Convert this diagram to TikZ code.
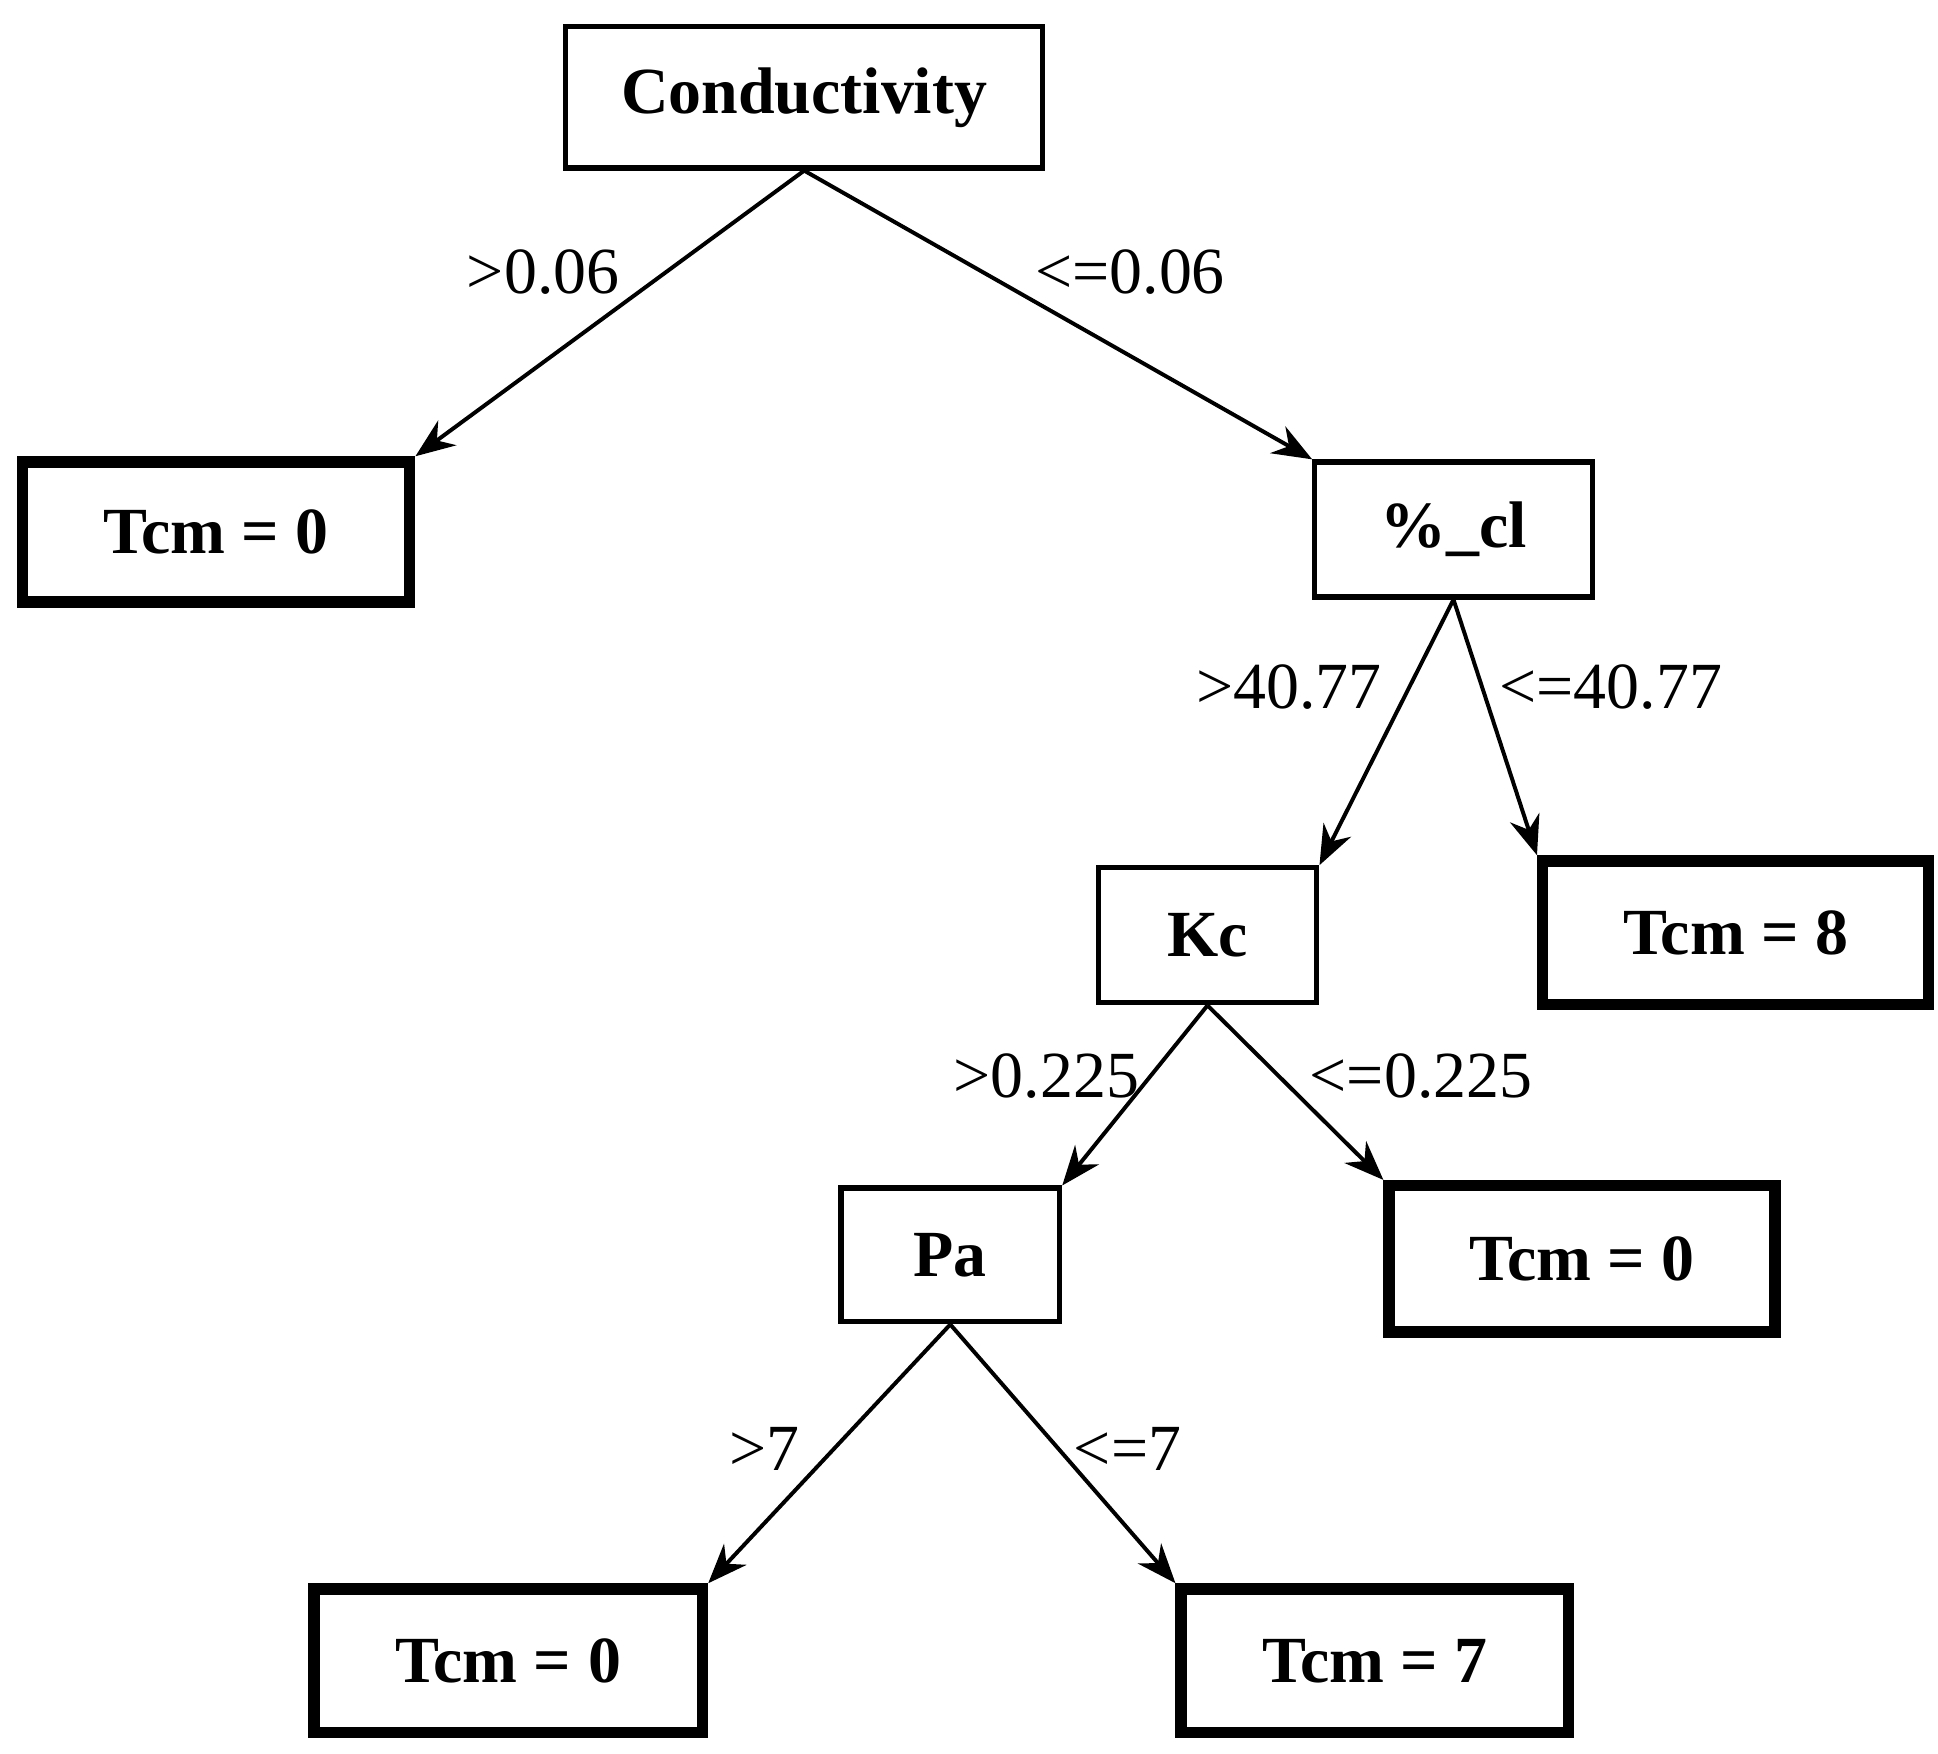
\documentclass[tikz,border=0pt]{standalone}
\usepackage{fontspec}
\setmainfont{Liberation Serif}
\usetikzlibrary{arrows.meta}
\begin{document}
\begin{tikzpicture}[x=0.01cm,y=-0.01cm,
  inner/.style={draw,line width=1.2pt,font=\fontsize{15}{18}\selectfont\bfseries,inner sep=0pt},
  leaf/.style={draw,line width=2.6pt,font=\fontsize{15}{18}\selectfont\bfseries,inner sep=0pt},
  conn/.style={line width=0.9pt,-{Stealth[length=9pt,width=7pt]}},
  lab/.style={font=\fontsize{15}{18}\selectfont}]
\useasboundingbox (0,0) rectangle (1552,1404);
\node[inner,minimum width=3.82cm,minimum height=1.13cm] (cond) at (644,78) {Conductivity};
\node[leaf,minimum width=3.1cm,minimum height=1.12cm] (l1) at (173,426) {Tcm = 0};
\node[inner,minimum width=2.22cm,minimum height=1.08cm] (cl) at (1164,424) {\%\_cl};
\node[inner,minimum width=1.75cm,minimum height=1.08cm] (kc) at (967,749) {Kc};
\node[leaf,minimum width=3.09cm,minimum height=1.15cm] (l8) at (1390,747) {Tcm = 8};
\node[inner,minimum width=1.75cm,minimum height=1.07cm] (pa) at (761,1005) {Pa};
\node[leaf,minimum width=3.09cm,minimum height=1.17cm] (l0m) at (1267,1008) {Tcm = 0};
\node[leaf,minimum width=3.11cm,minimum height=1.15cm] (l0b) at (407,1330) {Tcm = 0};
\node[leaf,minimum width=3.1cm,minimum height=1.15cm] (l7) at (1101,1330) {Tcm = 7};
\draw[conn] (cond.south) -- (l1.north east);
\draw[conn] (cond.south) -- (cl.north west);
\draw[conn] (cl.south) -- (kc.north east);
\draw[conn] (cl.south) -- (l8.north west);
\draw[conn] (kc.south) -- (pa.north east);
\draw[conn] (kc.south) -- (l0m.north west);
\draw[conn] (pa.south) -- (l0b.north east);
\draw[conn] (pa.south) -- (l7.north west);
\node[lab] (t1) at (435,218) {>0.06};
\node[lab] (t2) at (905,218) {<=0.06};
\node[lab] (t3) at (1032,550) {>40.77};
\node[lab] (t4) at (1290,550) {<=40.77};
\node[lab] (t5) at (838,862) {>0.225};
\node[lab] (t6) at (1138,862) {<=0.225};
\node[lab] (t7) at (612,1160) {>7};
\node[lab] (t8) at (903,1160) {<=7};
\end{tikzpicture}
\end{document}
